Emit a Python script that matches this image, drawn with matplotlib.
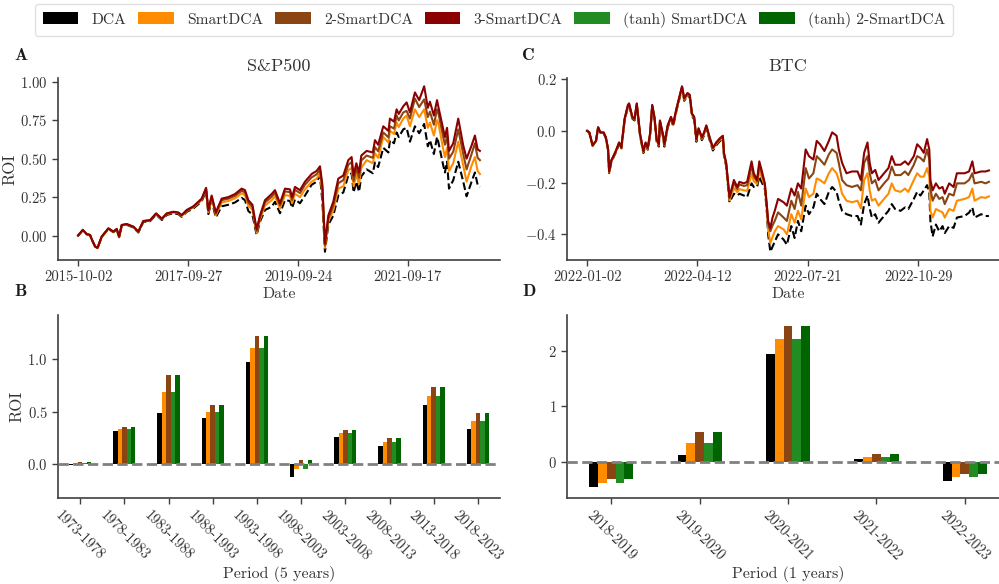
import numpy as np
import pandas as pd
import matplotlib
matplotlib.use("Agg")
import matplotlib.pyplot as plt
import matplotlib.dates as mdates
from matplotlib.patches import Patch

plt.rcParams["font.family"] = "cmr10"
plt.rcParams["mathtext.fontset"] = "cm"
plt.rcParams["axes.formatter.use_mathtext"] = True
plt.rcParams["axes.unicode_minus"] = True

# ---------------- data ----------------
STRATS = ["DCA", "SmartDCA", "2-SmartDCA", "3-SmartDCA",
          "(tanh) SmartDCA", "(tanh) 2-SmartDCA"]
COLORS = ["black", "#FF8C00", "#8B4513", "#8B0000", "#228B22", "#006400"]

# S&P500 ROI (3-SmartDCA, 2-SmartDCA, SmartDCA, DCA)
sp_dates = [
    "2015-10-02", "2015-11-02", "2015-11-28", "2015-12-20", "2016-01-02", "2016-01-22",
    "2016-02-07", "2016-03-06", "2016-04-19", "2016-05-22", "2016-06-13", "2016-06-29",
    "2016-07-16", "2016-08-18", "2016-10-01", "2016-11-03", "2016-12-06", "2017-01-19",
    "2017-02-28", "2017-04-07", "2017-05-09", "2017-06-22", "2017-07-25", "2017-08-16",
    "2017-09-18", "2017-11-01", "2017-12-04", "2017-12-26", "2018-01-24", "2018-02-08",
    "2018-03-02", "2018-03-29", "2018-05-07", "2018-06-20", "2018-08-03", "2018-09-16",
    "2018-10-08", "2018-10-30", "2018-11-26", "2018-12-24", "2019-01-15", "2019-02-17",
    "2019-04-02", "2019-04-24", "2019-05-27", "2019-06-29", "2019-08-01", "2019-08-15",
    "2019-09-03", "2019-10-06", "2019-11-08", "2019-12-22", "2020-01-24", "2020-02-15",
    "2020-03-02", "2020-03-19", "2020-04-10", "2020-05-13", "2020-06-15", "2020-07-18",
    "2020-08-20", "2020-09-11", "2020-09-24", "2020-10-12", "2020-10-30", "2020-11-14",
    "2020-12-19", "2021-01-29", "2021-02-12", "2021-03-05", "2021-04-08", "2021-05-12",
    "2021-05-22", "2021-06-18", "2021-07-05", "2021-07-19", "2021-08-18", "2021-09-09",
    "2021-10-01", "2021-11-03", "2021-12-01", "2022-01-03", "2022-01-27", "2022-02-10",
    "2022-03-08", "2022-03-29", "2022-04-06", "2022-05-09", "2022-05-20", "2022-06-03",
    "2022-06-16", "2022-07-14", "2022-08-16", "2022-09-18", "2022-10-10", "2022-11-12",
    "2022-12-04", "2022-12-22", "2023-01-06",
]
sp_smart3 = [
    0.000, 0.037, 0.010, 0.004, -0.028, -0.070, -0.080, -0.006, 0.047, 0.026, 0.043, -0.006,
    0.069, 0.075, 0.058, 0.026, 0.095, 0.100, 0.144, 0.110, 0.144, 0.155, 0.150, 0.133,
    0.166, 0.190, 0.220, 0.240, 0.310, 0.166, 0.260, 0.150, 0.240, 0.250, 0.270, 0.305,
    0.295, 0.230, 0.200, 0.040, 0.130, 0.230, 0.270, 0.295, 0.210, 0.305, 0.300, 0.250,
    0.316, 0.295, 0.350, 0.400, 0.420, 0.450, 0.330, -0.050, 0.130, 0.220, 0.370, 0.390,
    0.490, 0.510, 0.390, 0.470, 0.410, 0.520, 0.550, 0.540, 0.620, 0.590, 0.710, 0.680,
    0.760, 0.740, 0.820, 0.790, 0.840, 0.865, 0.800, 0.930, 0.880, 0.970, 0.830, 0.870,
    0.780, 0.880, 0.840, 0.690, 0.640, 0.700, 0.550, 0.600, 0.760, 0.585, 0.500, 0.585,
    0.650, 0.560, 0.550,
]
sp_smart2 = [
    0.000, 0.036, 0.010, 0.004, -0.028, -0.070, -0.081, -0.007, 0.046, 0.025, 0.042, -0.007,
    0.068, 0.074, 0.057, 0.025, 0.094, 0.099, 0.142, 0.108, 0.142, 0.153, 0.148, 0.131,
    0.164, 0.187, 0.216, 0.236, 0.305, 0.160, 0.252, 0.142, 0.230, 0.240, 0.258, 0.292,
    0.280, 0.215, 0.186, 0.030, 0.118, 0.215, 0.252, 0.278, 0.195, 0.287, 0.282, 0.232,
    0.297, 0.276, 0.330, 0.378, 0.398, 0.428, 0.305, -0.065, 0.110, 0.195, 0.340, 0.360,
    0.460, 0.478, 0.355, 0.435, 0.375, 0.488, 0.520, 0.505, 0.575, 0.548, 0.670, 0.638,
    0.710, 0.695, 0.780, 0.748, 0.800, 0.810, 0.760, 0.890, 0.835, 0.885, 0.770, 0.805,
    0.720, 0.820, 0.800, 0.640, 0.590, 0.645, 0.500, 0.545, 0.690, 0.530, 0.430, 0.530,
    0.600, 0.505, 0.490,
]
sp_smart = [
    0.000, 0.035, 0.009, 0.003, -0.029, -0.071, -0.082, -0.008, 0.045, 0.024, 0.041, -0.009,
    0.066, 0.072, 0.055, 0.023, 0.092, 0.097, 0.140, 0.106, 0.139, 0.150, 0.145, 0.128,
    0.160, 0.183, 0.211, 0.231, 0.298, 0.152, 0.242, 0.132, 0.215, 0.225, 0.242, 0.275,
    0.262, 0.195, 0.167, 0.018, 0.103, 0.195, 0.230, 0.255, 0.175, 0.263, 0.258, 0.210,
    0.272, 0.250, 0.300, 0.350, 0.370, 0.405, 0.275, -0.080, 0.090, 0.165, 0.305, 0.320,
    0.425, 0.440, 0.320, 0.395, 0.335, 0.440, 0.490, 0.470, 0.535, 0.505, 0.640, 0.605,
    0.680, 0.660, 0.735, 0.705, 0.760, 0.780, 0.710, 0.820, 0.770, 0.820, 0.700, 0.735,
    0.650, 0.750, 0.735, 0.560, 0.510, 0.570, 0.420, 0.470, 0.610, 0.455, 0.350, 0.455,
    0.510, 0.420, 0.400,
]
sp_dca = [
    0.000, 0.034, 0.008, 0.002, -0.030, -0.072, -0.083, -0.009, 0.043, 0.022, 0.039, -0.011,
    0.064, 0.070, 0.052, 0.020, 0.089, 0.093, 0.136, 0.101, 0.134, 0.145, 0.139, 0.122,
    0.154, 0.176, 0.204, 0.223, 0.288, 0.140, 0.228, 0.118, 0.190, 0.200, 0.215, 0.245,
    0.230, 0.160, 0.135, 0.004, 0.090, 0.166, 0.187, 0.220, 0.145, 0.230, 0.225, 0.180,
    0.235, 0.210, 0.260, 0.330, 0.350, 0.390, 0.220, -0.105, 0.070, 0.130, 0.260, 0.280,
    0.390, 0.405, 0.280, 0.350, 0.285, 0.385, 0.430, 0.405, 0.475, 0.445, 0.570, 0.540,
    0.620, 0.600, 0.670, 0.640, 0.690, 0.700, 0.610, 0.710, 0.665, 0.725, 0.580, 0.620,
    0.530, 0.640, 0.610, 0.455, 0.410, 0.480, 0.305, 0.360, 0.480, 0.350, 0.255, 0.350,
    0.410, 0.330, 0.315,
]

# BTC ROI, days after 2022-01-02
btc_start = "2022-01-02"
btc_day = [
    0, 2, 4, 5, 8, 10, 12, 15, 17, 19, 20, 22, 26, 29, 31, 34, 37, 38, 41, 43, 45, 48,
    51, 53, 55, 57, 59, 61, 63, 65, 66, 69, 70, 73, 76, 78, 81, 84, 86, 88, 91, 93, 95,
    97, 99, 101, 104, 106, 108, 111, 114, 117, 120, 123, 124, 126, 129, 133, 136, 138,
    142, 145, 149, 151, 154, 156, 158, 161, 163, 164, 166, 168, 170, 173, 178, 181, 185,
    188, 191, 194, 198, 201, 205, 208, 211, 215, 219, 222, 226, 228, 231, 235, 240, 245,
    248, 251, 254, 256, 258, 261, 264, 269, 273, 276, 279, 284, 288, 291, 296, 299, 302,
    305, 308, 310, 311, 313, 316, 319, 322, 324, 328, 332, 335, 342, 346, 349, 351, 357,
    361, 364,
]
btc_smart3 = [
    0.000, -0.006, -0.039, -0.056, -0.039, 0.014, -0.006, -0.006, -0.025, -0.070, -0.157,
    -0.114, -0.078, -0.045, -0.065, 0.047, 0.100, 0.106, 0.054, 0.047, 0.106, -0.012,
    -0.078, -0.045, -0.065, -0.012, 0.100, 0.054, -0.032, -0.052, 0.040, -0.019, -0.052,
    0.021, 0.054, 0.027, 0.087, 0.139, 0.172, 0.126, 0.146, 0.139, 0.067, 0.054, -0.032,
    0.010, -0.025, -0.006, 0.021, -0.025, -0.065, -0.045, -0.030, -0.019, -0.085, -0.124,
    -0.256, -0.190, -0.217, -0.197, -0.203, -0.197, -0.118, -0.164, -0.190, -0.118,
    -0.150, -0.203, -0.296, -0.348, -0.375, -0.335, -0.309, -0.263, -0.276, -0.289,
    -0.223, -0.250, -0.203, -0.223, -0.072, -0.098, -0.111, -0.039, -0.052, -0.078,
    -0.039, -0.006, -0.019, -0.072, -0.124, -0.164, -0.157, -0.157, -0.190, -0.085,
    -0.045, -0.124, -0.164, -0.151, -0.190, -0.164, -0.144, -0.098, -0.131, -0.131,
    -0.118, -0.131, -0.098, -0.052, -0.065, -0.085, -0.032, -0.072, -0.190, -0.230,
    -0.203, -0.223, -0.217, -0.243, -0.203, -0.217, -0.164, -0.164, -0.157, -0.118,
    -0.164, -0.157, -0.157, -0.153,
]
btc_smart2 = [
    0.000, -0.006, -0.039, -0.056, -0.040, 0.013, -0.007, -0.007, -0.026, -0.071, -0.158,
    -0.115, -0.079, -0.046, -0.066, 0.045, 0.098, 0.104, 0.052, 0.045, 0.104, -0.014,
    -0.080, -0.047, -0.067, -0.014, 0.098, 0.052, -0.034, -0.054, 0.038, -0.021, -0.054,
    0.019, 0.052, 0.025, 0.085, 0.137, 0.170, 0.124, 0.144, 0.137, 0.065, 0.052, -0.034,
    0.008, -0.027, -0.008, 0.019, -0.027, -0.067, -0.047, -0.032, -0.021, -0.087, -0.126,
    -0.260, -0.200, -0.225, -0.207, -0.213, -0.210, -0.135, -0.176, -0.196, -0.132,
    -0.160, -0.207, -0.300, -0.360, -0.388, -0.365, -0.348, -0.315, -0.335, -0.348,
    -0.270, -0.302, -0.236, -0.289, -0.144, -0.184, -0.164, -0.098, -0.111, -0.131,
    -0.091, -0.072, -0.085, -0.124, -0.190, -0.210, -0.217, -0.210, -0.230, -0.124,
    -0.098, -0.164, -0.203, -0.190, -0.230, -0.203, -0.184, -0.138, -0.171, -0.171,
    -0.157, -0.171, -0.131, -0.098, -0.105, -0.118, -0.072, -0.111, -0.223, -0.270,
    -0.243, -0.263, -0.256, -0.283, -0.243, -0.250, -0.203, -0.203, -0.190, -0.164,
    -0.203, -0.197, -0.203, -0.197,
]
btc_smart = [
    0.000, -0.007, -0.040, -0.057, -0.041, 0.012, -0.008, -0.008, -0.027, -0.073, -0.160,
    -0.117, -0.081, -0.048, -0.068, 0.043, 0.096, 0.102, 0.050, 0.043, 0.101, -0.017,
    -0.083, -0.050, -0.070, -0.017, 0.095, 0.049, -0.037, -0.057, 0.035, -0.024, -0.057,
    0.016, 0.049, 0.022, 0.082, 0.134, 0.167, 0.120, 0.140, 0.133, 0.061, 0.048, -0.038,
    0.004, -0.031, -0.012, 0.015, -0.031, -0.071, -0.051, -0.036, -0.025, -0.091, -0.131,
    -0.268, -0.220, -0.237, -0.225, -0.230, -0.232, -0.165, -0.195, -0.205, -0.155,
    -0.178, -0.214, -0.310, -0.380, -0.434, -0.410, -0.388, -0.368, -0.381, -0.400,
    -0.322, -0.355, -0.309, -0.342, -0.223, -0.256, -0.243, -0.184, -0.190, -0.203,
    -0.164, -0.144, -0.164, -0.190, -0.243, -0.270, -0.276, -0.270, -0.300, -0.190,
    -0.164, -0.230, -0.270, -0.263, -0.289, -0.263, -0.243, -0.203, -0.230, -0.236,
    -0.223, -0.236, -0.190, -0.164, -0.177, -0.177, -0.144, -0.177, -0.309, -0.335,
    -0.302, -0.309, -0.315, -0.335, -0.302, -0.309, -0.270, -0.263, -0.256, -0.223,
    -0.270, -0.256, -0.259, -0.253,
]
btc_dca = [
    0.000, -0.007, -0.041, -0.058, -0.042, 0.011, -0.009, -0.010, -0.029, -0.075, -0.163,
    -0.120, -0.084, -0.051, -0.071, 0.040, 0.093, 0.099, 0.047, 0.040, 0.098, -0.020,
    -0.086, -0.053, -0.073, -0.020, 0.092, 0.046, -0.041, -0.061, 0.032, -0.028, -0.061,
    0.012, 0.045, 0.018, 0.078, 0.130, 0.163, 0.116, 0.136, 0.129, 0.057, 0.044, -0.042,
    0.000, -0.036, -0.017, 0.010, -0.036, -0.076, -0.056, -0.041, -0.030, -0.096, -0.137,
    -0.276, -0.243, -0.250, -0.243, -0.250, -0.256, -0.203, -0.217, -0.217, -0.177,
    -0.197, -0.223, -0.322, -0.400, -0.467, -0.447, -0.428, -0.400, -0.420, -0.440,
    -0.368, -0.414, -0.348, -0.388, -0.289, -0.322, -0.296, -0.243, -0.263, -0.283,
    -0.236, -0.217, -0.236, -0.270, -0.309, -0.322, -0.329, -0.329, -0.362, -0.283,
    -0.250, -0.300, -0.335, -0.322, -0.355, -0.329, -0.309, -0.283, -0.302, -0.309,
    -0.296, -0.302, -0.263, -0.236, -0.250, -0.230, -0.210, -0.236, -0.348, -0.408,
    -0.362, -0.388, -0.368, -0.395, -0.368, -0.375, -0.335, -0.329, -0.316, -0.296,
    -0.335, -0.322, -0.329, -0.329,
]

# 5-year periods (S&P500)
periods_5y = ["1973-1978", "1978-1983", "1983-1988", "1988-1993", "1993-1998",
              "1998-2003", "2003-2008", "2008-2013", "2013-2018", "2018-2023"]
p5_dca     = [-0.01, 0.316, 0.486, 0.439, 0.969, -0.117, 0.259, 0.174, 0.562, 0.335]
p5_smart   = [0.01, 0.335, 0.685, 0.496, 1.102, -0.044, 0.297, 0.211, 0.647, 0.410]
p5_smart2  = [0.02, 0.354, 0.846, 0.562, 1.215, 0.041, 0.325, 0.249, 0.732, 0.486]
p5_tsmart  = [0.01, 0.335, 0.685, 0.496, 1.102, -0.044, 0.297, 0.211, 0.647, 0.410]
p5_tsmart2 = [0.02, 0.354, 0.846, 0.562, 1.215, 0.041, 0.325, 0.249, 0.732, 0.486]

# 1-year periods (BTC)
periods_1y = ["2018-2019", "2019-2020", "2020-2021", "2021-2022", "2022-2023"]
p1_dca     = [-0.436, 0.131, 1.94, 0.06, -0.334]
p1_smart   = [-0.364, 0.346, 2.21, 0.095, -0.257]
p1_smart2  = [-0.30, 0.543, 2.44, 0.149, -0.203]
p1_tsmart  = [-0.364, 0.346, 2.21, 0.095, -0.257]
p1_tsmart2 = [-0.30, 0.543, 2.44, 0.149, -0.203]

# ---------------- figure ----------------
W, H = 999, 584
fig = plt.figure(figsize=(W / 100, H / 100), dpi=100)


def box(l, t, r, b):
    return [l / W, 1 - b / H, (r - l) / W, (b - t) / H]


axA = fig.add_axes(box(58, 78, 500, 260))
axC = fig.add_axes(box(567, 78, 1009, 260))
axB = fig.add_axes(box(58, 315, 500, 498))
axD = fig.add_axes(box(567, 315, 1009, 498))

TXT = "0.2"


def style(ax):
    for s in ["top", "right"]:
        ax.spines[s].set_visible(False)
    for s in ["left", "bottom"]:
        ax.spines[s].set_color("0.25")
        ax.spines[s].set_linewidth(1.2)
    ax.tick_params(direction="out", length=4, width=1, color="0.25",
                   labelsize=10.5, labelcolor=TXT)


def lines(ax, x, dca, s1, s2, s3):
    ax.plot(x, dca, color=COLORS[0], ls="--", lw=1.5)
    ax.plot(x, s1, color=COLORS[1], lw=1.5)
    ax.plot(x, s2, color=COLORS[2], lw=1.5)
    ax.plot(x, s3, color=COLORS[3], lw=1.5)


sp_x = pd.to_datetime(sp_dates)
lines(axA, sp_x, sp_dca, sp_smart, sp_smart2, sp_smart3)
axA.set_xticks(pd.to_datetime(["2015-10-02", "2017-09-27", "2019-09-24", "2021-09-17"]))
axA.xaxis.set_major_formatter(mdates.DateFormatter("%Y-%m-%d"))
axA.set_yticks([0, 0.25, 0.5, 0.75, 1.0])
axA.set_title("S&P500", fontsize=13, color=TXT, pad=5)
axA.set_xlabel("Date", fontsize=11.5, color=TXT, labelpad=2)
axA.set_ylabel("ROI", fontsize=12, color=TXT, labelpad=2)

btc_x = pd.Timestamp(btc_start) + pd.to_timedelta(btc_day, unit="D")
lines(axC, btc_x, btc_dca, btc_smart, btc_smart2, btc_smart3)
axC.set_xticks(pd.to_datetime(["2022-01-02", "2022-04-12", "2022-07-21", "2022-10-29"]))
axC.xaxis.set_major_formatter(mdates.DateFormatter("%Y-%m-%d"))
axC.set_yticks([-0.4, -0.2, 0.0, 0.2])
axC.set_title("BTC", fontsize=13, color=TXT, pad=5)
axC.set_xlabel("Date", fontsize=11.5, color=TXT, labelpad=2)


def bars(ax, labels, series, ylim, yticks):
    x = np.arange(len(labels))
    w = 0.1
    cols = [COLORS[0], COLORS[1], COLORS[2], COLORS[4], COLORS[5]]
    for i, (vals, c) in enumerate(zip(series, cols)):
        ax.bar(x + (i - 2) * w, vals, width=w, color=c, linewidth=0)
    ax.axhline(0, color="gray", ls="--", lw=2, zorder=5)
    ax.set_xlim(-0.5, len(labels) - 0.5)
    ax.set_ylim(*ylim)
    ax.set_yticks(yticks)
    ax.set_xticks(x)
    ax.set_xticklabels(labels, rotation=-45, ha="center")


bars(axB, periods_5y, [p5_dca, p5_smart, p5_smart2, p5_tsmart, p5_tsmart2],
     (-0.32, 1.415), [0.0, 0.5, 1.0])
axB.set_xlabel("Period (5 years)", fontsize=11.5, color=TXT, labelpad=2)
axB.set_ylabel("ROI", fontsize=12, color=TXT, labelpad=2)

bars(axD, periods_1y, [p1_dca, p1_smart, p1_smart2, p1_tsmart, p1_tsmart2],
     (-0.64, 2.64), [0, 1, 2])
axD.set_xlabel("Period (1 years)", fontsize=11.5, color=TXT, labelpad=2)

for ax in (axA, axB, axC, axD):
    style(ax)

for lab, x, y in [("A", 14, 55), ("B", 14, 292), ("C", 522, 55), ("D", 522, 292)]:
    fig.text(x / W, 1 - y / H, lab, family="cmb10", fontsize=12.5,
             va="center", ha="left", color="0.1")

handles = [Patch(facecolor=c, edgecolor="none") for c in COLORS]
fig.legend(handles, STRATS, loc="upper center", ncol=6,
           bbox_to_anchor=(494 / W, 1 - 4 / H), fontsize=11.2,
           handlelength=2.3, handleheight=0.8, handletextpad=0.85,
           columnspacing=0.75, frameon=True, fancybox=True,
           edgecolor="0.85", borderpad=0.5, borderaxespad=0, labelcolor=TXT)

fig.savefig("out.png", dpi=100)
